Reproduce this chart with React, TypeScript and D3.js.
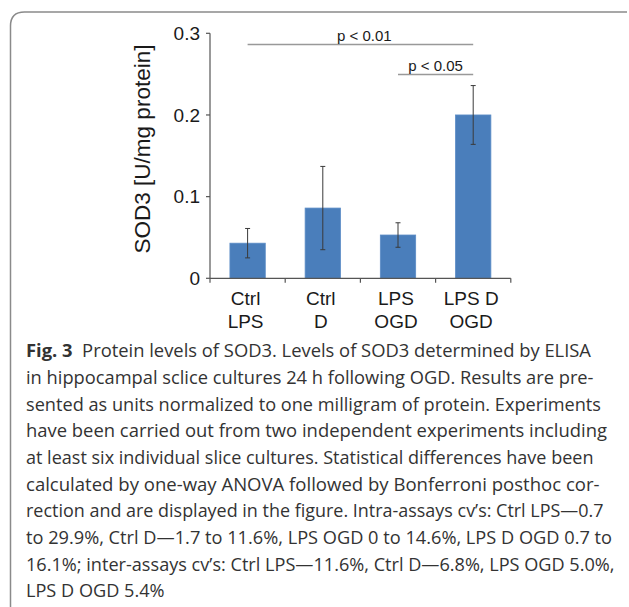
import * as d3 from "d3";

// values
const categories = ["Ctrl LPS", "Ctrl D", "LPS OGD", "LPS D OGD"];
const labelTop = ["Ctrl", "Ctrl", "LPS", "LPS D"];
const labelBottom = ["LPS", "D", "OGD", "OGD"];
const means = [0.043, 0.086, 0.053, 0.2];
const errors = [0.018, 0.051, 0.015, 0.036];
const yTicks = [0, 0.1, 0.2, 0.3];
const yTickLabels = ["0", "0.1", "0.2", "0.3"];

// significance brackets: [from index, to index, label]
const sigFrom = [0, 2];
const sigTo = [3, 3];
const sigLabels = ["p < 0.01", "p < 0.05"];
const sigLevels = [44.5, 74.5];

const captionBold = "Fig. 3";
const captionLines = [
  "  Protein levels of SOD3. Levels of SOD3 determined by ELISA",
  "in hippocampal sclice cultures 24 h following OGD. Results are pre-",
  "sented as units normalized to one milligram of protein. Experiments",
  "have been carried out from two independent experiments including",
  "at least six individual slice cultures. Statistical differences have been",
  "calculated by one-way ANOVA followed by Bonferroni posthoc cor-",
  "rection and are displayed in the figure. Intra-assays cv’s: Ctrl LPS—0.7",
  "to 29.9%, Ctrl D—1.7 to 11.6%, LPS OGD 0 to 14.6%, LPS D OGD 0.7 to",
  "16.1%; inter-assays cv’s: Ctrl LPS—11.6%, Ctrl D—6.8%, LPS OGD 5.0%,",
  "LPS D OGD 5.4%",
];
const captionWidths = [565, 567.5, 575, 581, 567.5, 573.5, 577.5, 586, 588.5, 138.5];

export default function App() {
  const width = 629;
  const height = 607;

  const x = d3.scaleBand().domain(categories).range([210, 510.8]).padding(0);
  const y = d3.scaleLinear().domain([0, 0.3]).range([278.3, 33.3]);

  const barW = x.bandwidth() * 0.47;
  const cx = (i: number) => (x(categories[i]) as number) + x.bandwidth() / 2;
  const bounds = categories.map((c) => x(c) as number).concat([x.range()[1]]);

  const font = "'Liberation Sans', Arial, sans-serif";
  const axisColor = "#555";

  return (
    <svg
      width={width}
      height={height}
      style={{ position: "absolute", left: 0, top: 0, background: "#fff" }}
    >
      {/* frame */}
      <path
        d="M10.5,607 L10.5,26 Q10.5,12 24.5,12 L627,12"
        fill="none"
        stroke="#8a8a8a"
        strokeWidth={1.5}
      />

      {/* bars */}
      {means.map((m, i) => (
        <rect
          key={categories[i]}
          x={cx(i) - barW / 2}
          y={y(m)}
          width={barW}
          height={y(0) - y(m)}
          fill="#4a7ebb"
          stroke="#5b8cc6"
          strokeWidth={0.8}
        />
      ))}

      {/* error bars */}
      {means.map((m, i) => (
        <g key={"e" + i} stroke="#3a3a3a" strokeWidth={1}>
          <line x1={cx(i)} x2={cx(i)} y1={y(m + errors[i])} y2={y(m - errors[i])} />
          <line x1={cx(i) - 2.5} x2={cx(i) + 2.5} y1={y(m + errors[i])} y2={y(m + errors[i])} />
          <line x1={cx(i) - 2.5} x2={cx(i) + 2.5} y1={y(m - errors[i])} y2={y(m - errors[i])} />
        </g>
      ))}

      {/* y axis */}
      <line x1={210} x2={210} y1={y(0.3)} y2={y(0)} stroke={axisColor} strokeWidth={1.2} />
      {yTicks.map((t, i) => (
        <g key={"yt" + i}>
          <line x1={206} x2={210} y1={y(t)} y2={y(t)} stroke={axisColor} strokeWidth={1.2} />
          <text
            x={200}
            y={y(t)}
            dy="0.35em"
            textAnchor="end"
            fontFamily={font}
            fontSize={19}
            fill="#1a1a1a"
          >
            {yTickLabels[i]}
          </text>
        </g>
      ))}

      {/* x axis */}
      <line x1={210} x2={x.range()[1]} y1={y(0)} y2={y(0)} stroke={axisColor} strokeWidth={1.2} />
      {bounds.map((b, i) => (
        <line key={"xt" + i} x1={b} x2={b} y1={y(0)} y2={y(0) + 4.5} stroke={axisColor} strokeWidth={1.2} />
      ))}
      {categories.map((c, i) => (
        <text key={"xl" + c} fontFamily={font} fontSize={19} fill="#1a1a1a" textAnchor="middle">
          <tspan x={cx(i) - 2} y={305}>{labelTop[i]}</tspan>
          <tspan x={cx(i) - 2} y={327.5}>{labelBottom[i]}</tspan>
        </text>
      ))}

      {/* y title */}
      <text
        transform={`translate(150,149) rotate(-90)`}
        textAnchor="middle"
        fontFamily={font}
        fontSize={22.5}
        fill="#1a1a1a"
      >
        SOD3 [U/mg protein]
      </text>

      {/* significance */}
      {sigLabels.map((s, i) => {
        const x1 = cx(sigFrom[i]);
        const x2 = cx(sigTo[i]);
        return (
          <g key={s}>
            <line x1={x1} x2={x2} y1={sigLevels[i]} y2={sigLevels[i]} stroke="#999" strokeWidth={1.5} />
            <text
              x={(x1 + x2) / 2 + (i === 0 ? 4 : 0)}
              y={sigLevels[i] - 4}
              textAnchor="middle"
              fontFamily={font}
              fontSize={15}
              fill="#1a1a1a"
            >
              {s}
            </text>
          </g>
        );
      })}

      {/* caption */}
      {captionLines.map((l, i) => (
        <text
          key={"c" + i}
          x={26}
          y={357.3 + i * 26.67}
          fontFamily="'Open Sans', sans-serif"
          fontSize={17.5}
          fill="#333"
          textLength={captionWidths[i]}
          lengthAdjust="spacingAndGlyphs"
          xmlSpace="preserve"
        >
          {i === 0 ? <tspan fontWeight="bold">{captionBold}</tspan> : null}
          {l}
        </text>
      ))}
    </svg>
  );
}
